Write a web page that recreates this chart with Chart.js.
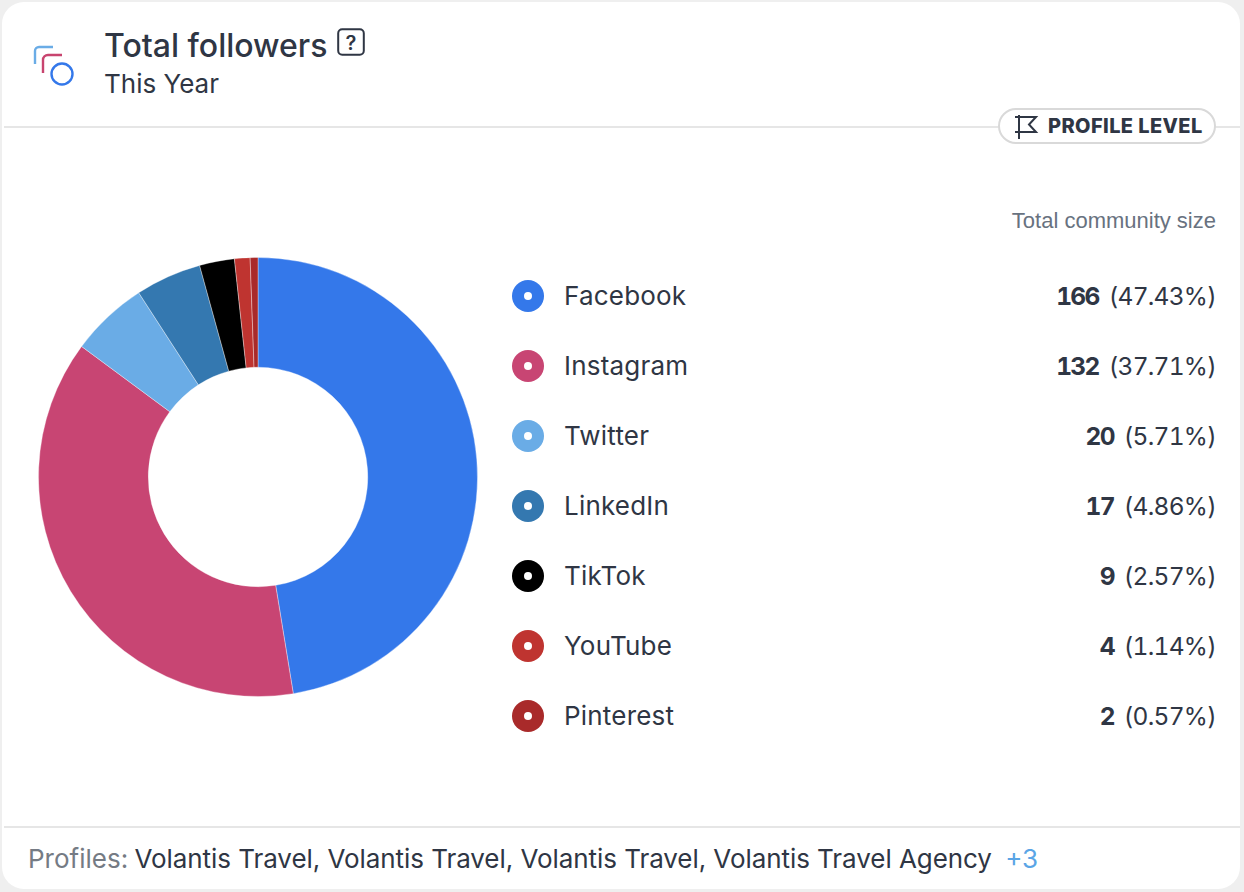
<!DOCTYPE html>
<html>
<head>
<meta charset="utf-8">
<title>Total followers</title>
<script src="https://cdn.jsdelivr.net/npm/chart.js@4"></script>
<style>
  html, body { margin: 0; padding: 0; }
  body { width: 1244px; height: 892px; background: #efefef; font-family: Inter, sans-serif; color: #2f3644; overflow: hidden; position: relative; }
  .card { position: absolute; left: 2px; top: 2px; width: 1238px; height: 887px; background: #fff; border-radius: 22px; }
  .abs { position: absolute; white-space: nowrap; }
  .rule { position: absolute; left: 4px; width: 1236px; height: 2px; background: #e6e6e6; }
  #title { left: 104px; top: 27px; font-size: 32px; line-height: 38px; font-weight: 500; }
  #subtitle { left: 104px; top: 67px; font-size: 26px; line-height: 34px; }
  #badge { left: 998px; top: 108px; width: 214px; height: 32px; border: 2px solid #d9d9d9; border-radius: 18px; background: #fff; }
  #badgeText { left: 1048px; top: 113px; font-size: 20px; line-height: 26px; font-weight: 800; letter-spacing: 0.4px; }
  #communityLabel { right: 28px; top: 207px; font-size: 22px; line-height: 28px; color: #68727f; font-family: "Liberation Sans", sans-serif; }
  #chartBox { position: absolute; left: 38px; top: 257px; width: 440px; height: 440px; }
  .dot { position: absolute; left: 512px; width: 32px; height: 32px; border-radius: 50%; }
  .dot i { position: absolute; left: 12px; top: 12px; width: 8px; height: 8px; border-radius: 50%; background: #fff; }
  .name { left: 564px; font-size: 26px; line-height: 34px; letter-spacing: 0.2px; }
  .val { right: 28px; font-size: 24.5px; line-height: 34px; font-variant-numeric: tabular-nums; letter-spacing: -0.75px; }
  .val b { font-weight: 700; margin-right: 4px; letter-spacing: -1.6px; }
  #profiles { left: 28px; top: 842px; font-size: 26px; line-height: 34px; }
  #profiles span { color: #757b84; margin-right: -1px; }
  #profiles u { text-decoration: none; letter-spacing: -0.06px; }
  #profiles em { font-style: normal; color: #5aa5e6; margin-left: 6px; }
</style>
</head>
<body>
<div class="card"></div>
<div class="rule" style="top:126px"></div>
<div class="rule" style="top:826px"></div>

<svg class="abs" style="left:30px;top:42px" width="50" height="50" fill="none" stroke-width="2.4">
  <path d="M5 22V9a4 4 0 0 1 4-4h14" stroke="#6aace6"/>
  <path d="M13 31V18a5 5 0 0 1 5-5h14" stroke="#c8446f"/>
  <circle cx="32" cy="32" r="10.5" stroke="#3478ea"/>
</svg>
<div class="abs" id="title">Total followers</div>
<svg class="abs" style="left:337px;top:28px" width="28" height="28" fill="none">
  <rect x="1.2" y="1.2" width="25.6" height="25.6" rx="4" stroke="#2f3644" stroke-width="2"/>
  <text x="14" y="21.500" font-family="Inter" font-size="20" font-weight="600" text-anchor="middle" fill="#2f3644">?</text>
</svg>
<div class="abs" id="subtitle">This Year</div>

<div class="abs" id="badge"></div>
<svg class="abs" style="left:1014px;top:113px" width="26" height="26" fill="none" stroke="#2f3644" stroke-width="2">
  <path d="M5 2V26M1 4H22L15 11.500L22 19H1"/>
</svg>
<div class="abs" id="badgeText">PROFILE LEVEL</div>

<div class="abs" id="communityLabel">Total community size</div>

<div id="chartBox"><canvas id="donut"></canvas></div>
<div id="legend"></div>

<div class="abs" id="profiles"><span>Profiles:</span> <u>Volantis Travel, Volantis Travel, Volantis Travel, Volantis Travel Agency</u> <em>+3</em></div>

<script>
const categories = ['Facebook', 'Instagram', 'Twitter', 'LinkedIn', 'TikTok', 'YouTube', 'Pinterest'];
const followers = [166, 132, 20, 17, 9, 4, 2];
const percentLabels = ['47.43%', '37.71%', '5.71%', '4.86%', '2.57%', '1.14%', '0.57%'];
const sliceColors = ['#3478ea', '#c84573', '#6aace6', '#3478b0', '#000000', '#bf3430', '#a92a2a'];

const legendEl = document.getElementById('legend');
legendEl.innerHTML = categories.map((name, i) => {
    const y = 280 + i * 70;
    return `
        <div class="dot" style="top:${y}px;background:${sliceColors[i]}"><i></i></div>
        <div class="abs name" style="top:${y - 1}px">${name}</div>
        <div class="abs val" style="top:${y - 1}px"><b>${followers[i]}</b> (${percentLabels[i]})</div>
    `;
}).join('');

new Chart(document.getElementById('donut').getContext('2d'), {
    type: 'doughnut',
    data: {
        labels: categories,
        datasets: [{
            data: followers,
            backgroundColor: sliceColors,
            borderColor: 'rgba(255, 255, 255, 0.35)',
            borderWidth: 1
        }]
    },
    options: {
        responsive: true,
        maintainAspectRatio: false,
        animation: false,
        cutout: '50%',
        layout: { padding: 0 },
        plugins: {
            legend: { display: false },
            tooltip: { enabled: false }
        }
    }
});
</script>
</body>
</html>
